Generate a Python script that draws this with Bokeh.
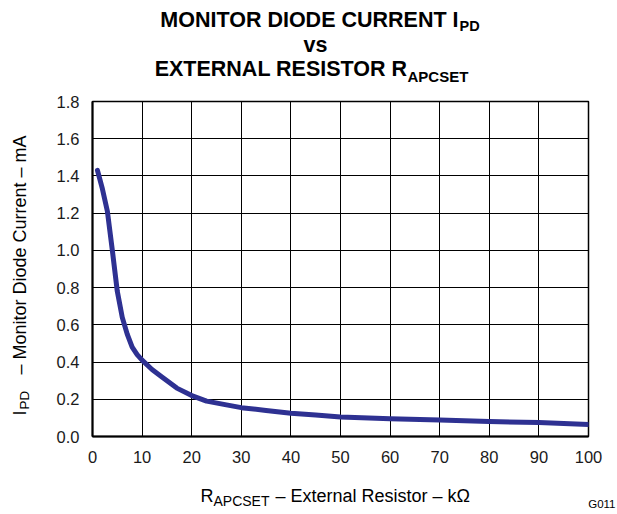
import math
from bokeh.plotting import figure
from bokeh.layouts import column, row
from bokeh.models import Range1d, Label, FixedTicker, NumeralTickFormatter
from bokeh.embed import file_html
from bokeh.resources import INLINE

# Data
r_apcset_kohm = [1, 2, 3, 4, 5, 6, 7, 8, 9, 10, 12, 14, 17, 20, 23, 27, 30, 35, 40, 45, 50, 60, 70, 80, 90, 100]
i_pd_ma = [1.43, 1.33, 1.21, 1.0, 0.78, 0.64, 0.55, 0.48, 0.44, 0.41, 0.36, 0.32, 0.26, 0.22, 0.19,
           0.17, 0.155, 0.14, 0.125, 0.115, 0.105, 0.095, 0.088, 0.08, 0.075, 0.065]
x_ticks = [0, 10, 20, 30, 40, 50, 60, 70, 80, 90, 100]
y_ticks = [0.0, 0.2, 0.4, 0.6, 0.8, 1.0, 1.2, 1.4, 1.6, 1.8]

title_line1 = "MONITOR DIODE CURRENT I"
title_line1_sub = "PD"
title_line2 = "vs"
title_line3 = "EXTERNAL RESISTOR R"
title_line3_sub = "APCSET"
xlabel_main, xlabel_sub, xlabel_rest = "R", "APCSET", "\u2013 External Resistor \u2013 k\u03a9"
ylabel_main, ylabel_sub, ylabel_rest = "I", "PD", "\u2013 Monitor Diode Current \u2013 mA"
fig_id = "G011"

FONT = "Liberation Sans"
TOTAL_W = 616
TOP_H = 91
LEFT_W = 48
MID_H = 380
BOT_H = 42

# ---------- main chart ----------
BL, BR, BT, BB = 44, 28, 10, 35
p = figure(width=TOTAL_W - LEFT_W, height=MID_H, x_range=Range1d(0, 100), y_range=Range1d(0, 1.8),
           output_backend="svg", toolbar_location=None,
           min_border_left=BL, min_border_right=BR, min_border_top=BT, min_border_bottom=BB)
p.outline_line_color = "black"
p.outline_line_width = 1.5
p.background_fill_color = "white"
p.border_fill_color = "white"

for ax in (p.xaxis[0], p.yaxis[0]):
    ax.major_tick_in = 0
    ax.major_tick_out = 0
    ax.minor_tick_in = 0
    ax.minor_tick_out = 0
    ax.axis_line_color = "black"
    ax.axis_line_width = 2
    ax.major_label_text_font = FONT
    ax.major_label_text_font_size = "16.5px"
    ax.major_label_text_color = "#1a1a1a"

p.xaxis.ticker = FixedTicker(ticks=x_ticks)
p.yaxis.ticker = FixedTicker(ticks=y_ticks)
p.yaxis.formatter = NumeralTickFormatter(format="0.0")
p.xaxis.major_label_standoff = 14
p.yaxis.major_label_standoff = 13

for g in (p.xgrid[0], p.ygrid[0]):
    g.grid_line_color = "black"
    g.grid_line_width = 1
    g.grid_line_alpha = 1

p.line(r_apcset_kohm, i_pd_ma, line_color="#2e3192", line_width=5,
       line_join="round", line_cap="round")


# ---------- text panels (their ranges are in page pixels, y pointing down) ----------
def text_fig(w, h, x0, x1, ytop, ybot, bt=0, bb=0):
    f = figure(width=w, height=h, x_range=Range1d(x0, x1), y_range=Range1d(ybot, ytop),
               output_backend="svg", toolbar_location=None, min_border=0,
               min_border_top=bt, min_border_bottom=bb, min_border_left=0, min_border_right=0,
               x_axis_location=None, y_axis_location=None)
    f.outline_line_color = None
    f.background_fill_color = "white"
    f.border_fill_color = "white"
    f.grid.grid_line_color = None
    f.grid.visible = False
    return f


def lab(f, x, y, text, size, align="left", bold=False, rotated=False):
    # (x, y): page position of the text baseline; converted to the text's middle
    # line because text_baseline="middle" is used.
    mid = 0.35 * size
    if rotated:
        x = x - mid
    else:
        y = y - mid
    f.add_layout(Label(x=x, y=y, text=text, text_font=FONT,
                       text_font_size=f"{size}px", text_align=align,
                       text_baseline="middle",
                       text_font_style="bold" if bold else "normal",
                       angle=math.pi / 2 if rotated else 0.0, text_color="black"))


top = text_fig(TOTAL_W, TOP_H, 0, TOTAL_W, 0, TOP_H)
lab(top, 458, 27, title_line1, 21.5, "right", True)
lab(top, 459, 31, title_line1_sub, 14.5, "left", True)
lab(top, 315, 52, title_line2, 21.5, "center", True)
lab(top, 407, 76, title_line3, 21.5, "right", True)
lab(top, 407, 81, title_line3_sub, 15, "left", True)

# left panel: frame spans the same page rows as the main frame (101..436)
FT = TOP_H + BT
FB = TOP_H + MID_H - BB
left = text_fig(LEFT_W, MID_H, 0, LEFT_W, FT, FB, bt=BT, bb=BB)
lab(left, 26, 415, ylabel_main, 18, "left", rotated=True)
lab(left, 29, 409, ylabel_sub, 13.5, "left", rotated=True)
lab(left, 26, 374, ylabel_rest, 18, "left", rotated=True)

BY0 = TOP_H + MID_H
bottom = text_fig(TOTAL_W, BOT_H, 0, TOTAL_W, BY0, BY0 + BOT_H)
lab(bottom, 200, 502, xlabel_main, 18, "left")
lab(bottom, 213, 505, xlabel_sub, 14, "left")
lab(bottom, 275, 502, xlabel_rest, 18, "left")
lab(bottom, 615, 508, fig_id, 11.5, "right")

layout = column(top, row(left, p, spacing=0), bottom, spacing=0)

open("out.html", "w").write(file_html(layout, INLINE))
